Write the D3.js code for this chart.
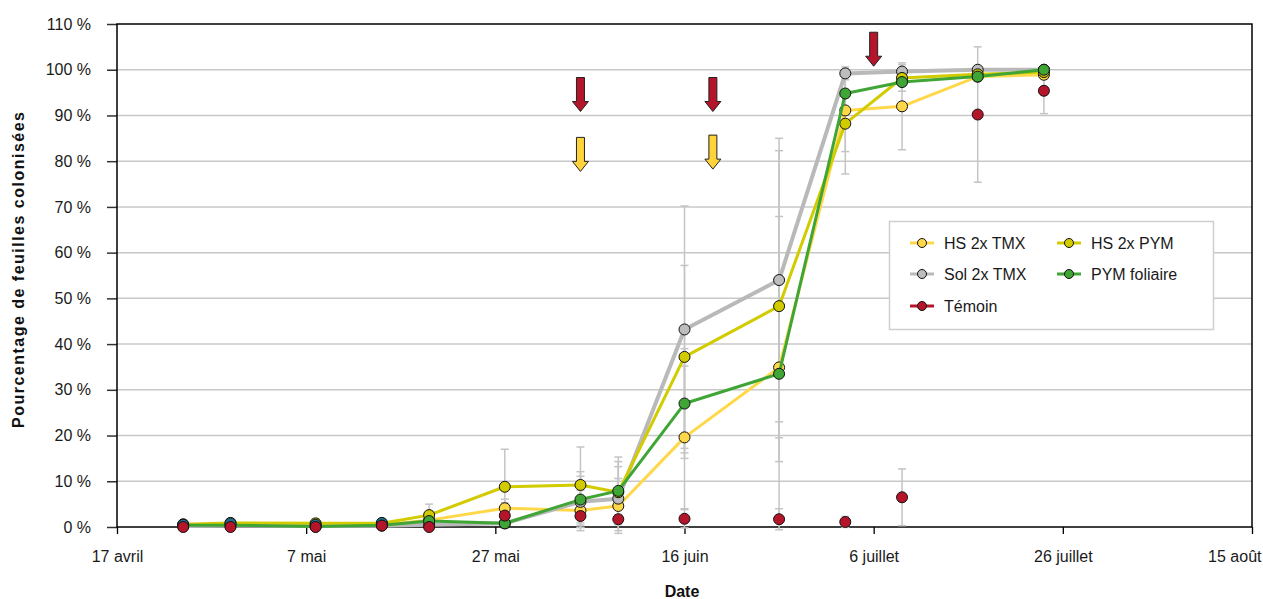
<!DOCTYPE html>
<html><head><meta charset="utf-8">
<script src="https://cdn.jsdelivr.net/npm/d3@7"></script>
<style>
html,body{margin:0;padding:0;background:#fff;}
svg{display:block;font-family:"Liberation Sans",Arial,sans-serif;}
</style></head>
<body><svg id="c" width="1263" height="599"></svg>
<script>
// ---- data ----
const dates = ["2014-04-24","2014-04-29","2014-05-08","2014-05-15","2014-05-20","2014-05-28","2014-06-05","2014-06-09","2014-06-16","2014-06-26","2014-07-03","2014-07-09","2014-07-17","2014-07-24"];
const hsTmx   = [0.3,0.5,0.5,0.5,1.5,4.1,3.6,4.6,19.6,34.9,91.1,92.0,98.5,98.9];
const hsPym   = [0.6,0.9,0.8,0.8,2.6,8.8,9.2,7.6,37.2,48.3,88.2,98.2,99.0,99.5];
const solTmx  = [0.2,0.3,0.2,0.3,0.5,0.8,5.5,6.2,43.2,54.0,99.2,99.6,100,100];
const pymFol  = [0.4,0.4,0.1,0.4,1.3,0.8,6.0,7.9,27.0,33.5,94.8,97.3,98.5,100];
const temoin  = [0.0,0.0,0.0,0.3,0.0,2.5,2.4,1.7,1.8,1.7,1.1,6.5,90.2,95.4];
const autre   = [0.5,0.8,0.5,0.9,null,null,null,null,null,null,null,null,null,null];
const errTmx  = [0,0,0,0,0,2.0,4.4,6.0,15.6,33,9,9.5,0.5,0.5];
const errPym  = [0,0.9,1.0,0,2.4,8.2,8.3,6.7,20,34,11,1,0.5,0.5];
const errSol  = [0,0,0,0,0,0.5,5.6,7.0,27,31,1.4,1.5,0.5,0];
const errFol  = [0,0,0,0,0,0.5,6.1,7.4,12,14,4,2,1,0];
const errTem  = [0,0,0,0,0,2.8,2.0,1.0,2.0,2.3,1.2,6.2,14.8,5.0];
const yTicks  = [0,10,20,30,40,50,60,70,80,90,100,110];
const xTickLabels = ["17 avril","7 mai","27 mai","16 juin","6 juillet","26 juillet","15 août"];
const xTickDates  = ["2014-04-17","2014-05-07","2014-05-27","2014-06-16","2014-07-06","2014-07-26","2014-08-15"];
const redArrows    = ["2014-06-05","2014-06-19","2014-07-06"];
const yellowArrows = ["2014-06-05","2014-06-19"];
const legendNames = ["HS 2x TMX","HS 2x PYM","Sol 2x TMX","PYM foliaire","Témoin"];

const parse = d3.timeParse("%Y-%m-%d");
const series = [
  {name:"HS 2x TMX", vals:hsTmx, err:errTmx, line:"#FFD84A", fill:"#FFD84A", w:3},
  {name:"Sol 2x TMX", vals:solTmx, err:errSol, line:"#B9B9B9", fill:"#BDBDBD", w:4},
  {name:"HS 2x PYM", vals:hsPym, err:errPym, line:"#D2CB00", fill:"#D2CB00", w:3},
  {name:"PYM foliaire", vals:pymFol, err:errFol, line:"#3FA535", fill:"#3FA535", w:3},
  {name:"", vals:autre, err:null, line:null, fill:"#1F6E8C", w:0},
  {name:"Témoin", vals:temoin, err:errTem, line:null, fill:"#B5152B", w:0}
];

// ---- layout ----
const L=117, R=1252, T=24, B=527;
const svg = d3.select("#c");
const x = d3.scaleTime().domain([parse("2014-04-17"), parse("2014-08-15")]).range([L,R]);
const y = d3.scaleLinear().domain([0,110]).range([B,T]);

// gridlines
svg.append("g").selectAll("line").data(yTicks.filter(v=>v>0&&v<110)).join("line")
  .attr("x1",L).attr("x2",R).attr("y1",d=>y(d)).attr("y2",d=>y(d))
  .attr("stroke","#C8C8C8").attr("stroke-width",1.5);

// y axis
const yAxis = d3.axisLeft(y).tickValues(yTicks).tickFormat(d=>d+" %").tickSize(10).tickPadding(16);
const gy = svg.append("g").attr("transform",`translate(${L},0)`).call(yAxis);
gy.select(".domain").remove();
gy.selectAll(".tick line").attr("stroke","#333").attr("stroke-width",1.5);
gy.selectAll("text").attr("font-size",16).attr("fill","#1a1a1a").attr("font-family","Liberation Sans, Arial, sans-serif");

// x axis
const xAxis = d3.axisBottom(x).tickValues(xTickDates.map(parse))
  .tickFormat((d,i)=>xTickLabels[i]).tickSize(7).tickPadding(17);
const gx = svg.append("g").attr("transform",`translate(0,${B})`).call(xAxis);
gx.select(".domain").remove();
gx.selectAll(".tick line").attr("stroke","#000").attr("stroke-width",1.3);
gx.selectAll("text").attr("font-size",16).attr("fill","#1a1a1a").attr("font-family","Liberation Sans, Arial, sans-serif");
gx.selectAll(".tick").filter((d,i)=>i===xTickLabels.length-1).select("text")
  .attr("text-anchor","end").attr("x",1261-R);

// plot frame
svg.append("rect").attr("x",L).attr("y",T).attr("width",R-L).attr("height",B-T)
  .attr("fill","none").attr("stroke","#000").attr("stroke-width",1.5);

// error bars
const eg = svg.append("g").attr("stroke","#C4C4C4").attr("stroke-width",1.5);
series.forEach(s=>{
  if(!s.err) return;
  s.vals.forEach((v,i)=>{
    const e = s.err[i];
    if(v==null || !e) return;
    const cx = x(parse(dates[i]));
    const y1 = y(Math.min(v+e,110)), y0 = y(Math.max(v-e,-2.5));
    eg.append("line").attr("x1",cx).attr("x2",cx).attr("y1",y1).attr("y2",y0);
    eg.append("line").attr("x1",cx-4).attr("x2",cx+4).attr("y1",y1).attr("y2",y1);
    eg.append("line").attr("x1",cx-4).attr("x2",cx+4).attr("y1",y0).attr("y2",y0);
  });
});

// lines and markers
const lineGen = d3.line().defined(d=>d.v!=null).x(d=>x(d.d)).y(d=>y(d.v));
series.forEach(s=>{
  const pts = s.vals.map((v,i)=>({d:parse(dates[i]),v}));
  const g = svg.append("g");
  if(s.line){
    g.append("path").datum(pts).attr("d",lineGen).attr("fill","none")
      .attr("stroke",s.line).attr("stroke-width",s.w).attr("stroke-linejoin","round");
  }
  g.selectAll("circle").data(pts.filter(p=>p.v!=null)).join("circle")
    .attr("cx",p=>x(p.d)).attr("cy",p=>y(p.v)).attr("r",5.5)
    .attr("fill",s.fill).attr("stroke","#111").attr("stroke-width",1);
});

// treatment arrows
function arrow(cx, ytop, len, fill){
  const sw=4, hw=8, hh=10;
  const p = [[cx-sw,ytop],[cx+sw,ytop],[cx+sw,ytop+len-hh],[cx+hw,ytop+len-hh],[cx,ytop+len],
             [cx-hw,ytop+len-hh],[cx-sw,ytop+len-hh]];
  svg.append("path").attr("d","M"+p.join("L")+"Z").attr("fill",fill)
    .attr("stroke","#222").attr("stroke-width",1);
}
redArrows.forEach((d,i)=>arrow(x(parse(d)), i===2? y(108.2): y(98.3), 34, "#B5152B"));
yellowArrows.forEach((d,i)=>arrow(x(parse(d)), y(i===0?85.2:85.7), 34, "#FFD43B"));

// legend
const lg = svg.append("g");
lg.append("rect").attr("x",889.5).attr("y",221.5).attr("width",324).attr("height",108)
  .attr("fill","#fff").attr("stroke","#CFCFCF").attr("stroke-width",1.5);
const legPos = [[910,243],[1057,243],[910,274],[1057,274],[910,306]];
const legColors = {"HS 2x TMX":["#FFD84A","#FFD84A"],"HS 2x PYM":["#D2CB00","#D2CB00"],
  "Sol 2x TMX":["#B9B9B9","#BDBDBD"],"PYM foliaire":["#3FA535","#3FA535"],"Témoin":["#B5152B","#B5152B"]};
legendNames.forEach((n,i)=>{
  const [lx,ly]=legPos[i];
  lg.append("line").attr("x1",lx).attr("x2",lx+24).attr("y1",ly).attr("y2",ly)
    .attr("stroke",legColors[n][0]).attr("stroke-width",3);
  lg.append("circle").attr("cx",lx+12).attr("cy",ly).attr("r",4.5)
    .attr("fill",legColors[n][1]).attr("stroke","#111").attr("stroke-width",1);
  lg.append("text").attr("x",lx+34).attr("y",ly+6).attr("font-size",16).attr("fill","#1a1a1a").text(n);
});

// axis titles
svg.append("text").attr("x",682).attr("y",597).attr("text-anchor","middle")
  .attr("font-size",16).attr("font-weight","bold").attr("fill","#111").text("Date");
svg.append("text").attr("transform","translate(24,270) rotate(-90)").attr("text-anchor","middle")
  .attr("font-size",16).attr("font-weight","bold").attr("fill","#111")
  .attr("textLength",316).attr("lengthAdjust","spacing")
  .text("Pourcentage de feuilles colonisées");
</script></body></html>
